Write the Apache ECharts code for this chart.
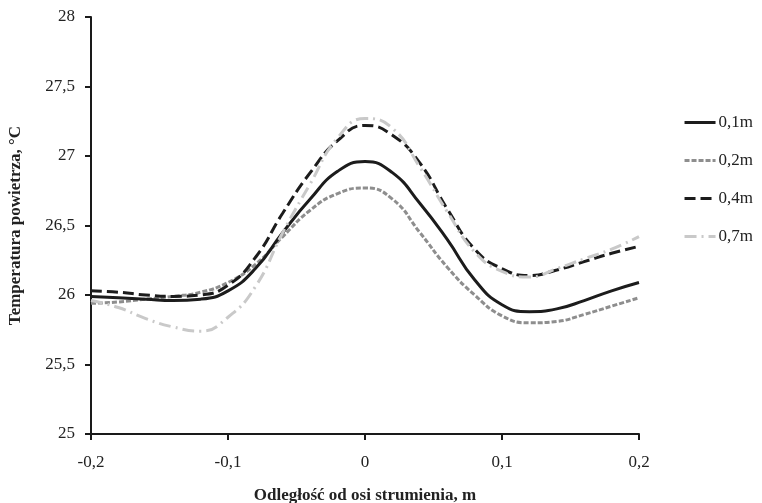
<!DOCTYPE html>
<html>
<head>
<meta charset="utf-8">
<script src="https://cdn.jsdelivr.net/npm/echarts@6/dist/echarts.min.js"></script>
<style>
html,body{margin:0;padding:0;background:#fff;}
#c{width:762px;height:503px;}
</style>
</head>
<body>
<div id="c"></div>
<script>
const distances = [-0.2,-0.18,-0.16,-0.14,-0.12,-0.1,-0.08,-0.06,-0.04,-0.02,0,0.02,0.04,0.06,0.08,0.1,0.12,0.14,0.16,0.18,0.2];
const seriesNames = ['0,1m','0,2m','0,4m','0,7m'];
const t01 = [25.99,25.98,25.97,25.96,25.97,26.03,26.19,26.45,26.69,26.89,26.96,26.88,26.66,26.40,26.11,25.93,25.88,25.90,25.96,26.03,26.09];
const t02 = [25.94,25.95,25.97,25.99,26.02,26.09,26.22,26.42,26.61,26.73,26.77,26.69,26.45,26.20,26.00,25.85,25.80,25.81,25.86,25.92,25.98];
const t04 = [26.03,26.02,26.00,25.99,26.00,26.07,26.27,26.59,26.88,27.11,27.22,27.15,26.95,26.62,26.33,26.19,26.14,26.18,26.24,26.30,26.35];
const t07 = [25.96,25.91,25.83,25.77,25.74,25.84,26.06,26.45,26.80,27.13,27.27,27.20,26.92,26.60,26.31,26.17,26.13,26.19,26.26,26.33,26.42];
const xTicks = {min:-0.2, max:0.2, interval:0.1};
const yTicks = {min:25, max:28, interval:0.5};
const xTitle = 'Odległość od osi strumienia, m';
const yTitle = 'Temperatura powietrza, °C';

const values = [t01,t02,t04,t07];
const styles = [
  {color:'#1c1c1c', width:3, type:'solid'},
  {color:'#8e8e8e', width:3, type:[5,2]},
  {color:'#1c1c1c', width:3, type:[11,5]},
  {color:'#c9c9c9', width:3, type:[12,5,2,5]}
];
const fmt = v => String(Math.round(v*10)/10).replace('.', ',');
const font = '"Liberation Serif", "Times New Roman", serif';

const chart = echarts.init(document.getElementById('c'), null, {renderer:'canvas'});
chart.setOption({
  animation:false,
  backgroundColor:'#fff',
  textStyle:{fontFamily:font},
  grid:{left:91, right:123, top:17, bottom:69, containLabel:false, outerBoundsMode:'none'},
  legend:{
    orient:'vertical', right:4, top:109,
    itemWidth:31, itemHeight:14, itemGap:21,
    itemStyle:{opacity:0},
    lineStyle:{width:3},
    textStyle:{fontFamily:font, fontSize:17, color:'#222', padding:[0,0,0,-2]},
    data:seriesNames
  },
  xAxis:{
    type:'value', min:xTicks.min, max:xTicks.max, interval:xTicks.interval,
    name:xTitle, nameLocation:'middle', nameGap:53,
    nameTextStyle:{fontFamily:font, fontSize:17, fontWeight:'bold', color:'#222'},
    axisLine:{show:true, onZero:false, lineStyle:{color:'#1a1a1a', width:2}},
    axisTick:{show:true, length:6, lineStyle:{color:'#1a1a1a', width:2}},
    axisLabel:{fontFamily:font, fontSize:17, color:'#222', margin:20, formatter:fmt},
    splitLine:{show:false}
  },
  yAxis:{
    type:'value', min:yTicks.min, max:yTicks.max, interval:yTicks.interval,
    name:yTitle, nameLocation:'middle', nameGap:67, nameRotate:90,
    nameTextStyle:{fontFamily:font, fontSize:17, fontWeight:'bold', color:'#222'},
    axisLine:{show:true, onZero:false, lineStyle:{color:'#1a1a1a', width:2}},
    axisTick:{show:true, length:6, lineStyle:{color:'#1a1a1a', width:2}},
    axisLabel:{fontFamily:font, fontSize:17, color:'#222', margin:16, formatter:fmt},
    splitLine:{show:false}
  },
  series: seriesNames.map((n,i)=>({
    name:n, type:'line', smooth:0.5, symbol:'none', showSymbol:false,
    color:styles[i].color,
    lineStyle:{color:styles[i].color, width:styles[i].width, type:styles[i].type},
    data: distances.map((d,k)=>[d, values[i][k]]),
    z: [2,1,3,4][i]
  }))
});
</script>
</body>
</html>
